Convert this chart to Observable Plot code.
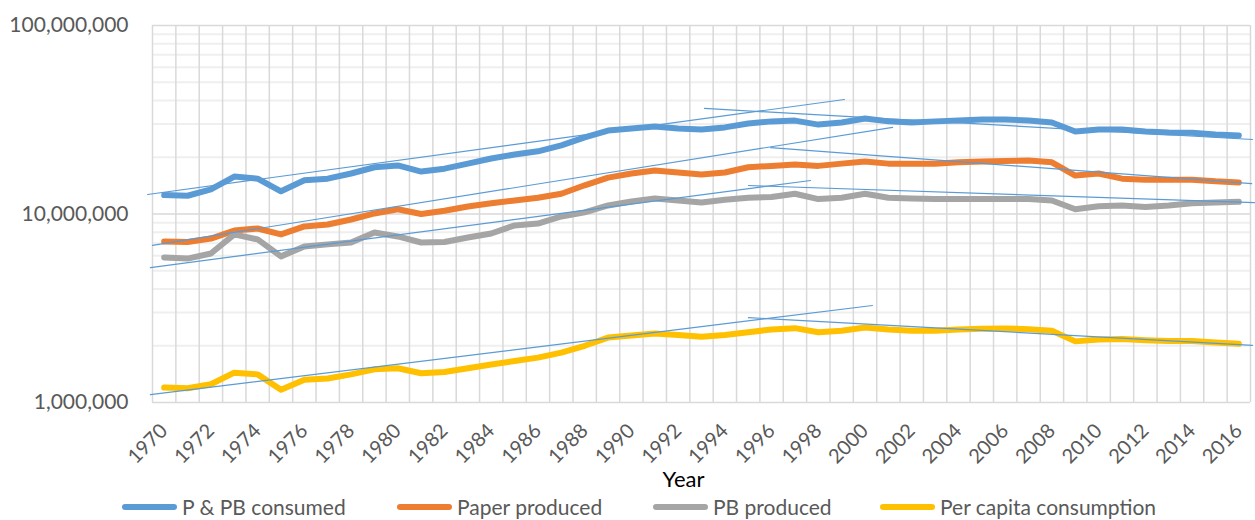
<!DOCTYPE html>
<html>
<head>
<meta charset="utf-8">
<script src="https://cdn.jsdelivr.net/npm/d3@7"></script>
<script src="https://cdn.jsdelivr.net/npm/@observablehq/plot@0.6"></script>
<style>
  html, body { margin: 0; padding: 0; background: #fff; overflow: hidden; }
  #wrap { position: relative; width: 1255px; height: 520px; font-family: Lato, "Open Sans", sans-serif; }
  #legend { position: absolute; left: 0; top: 494px; width: 1255px; height: 26px; }
  .item { position: absolute; top: 0; display: flex; align-items: center; height: 26px; font-size: 21px; line-height: 26px; color: #595959; white-space: nowrap; }
  .swatch { width: 55px; height: 6px; border-radius: 3px; margin-right: 5px; }
</style>
</head>
<body>
<div id="wrap"><div id="chart"></div><div id="legend"></div></div>
<script>
// ---- Data ----
const years = [1970,1971,1972,1973,1974,1975,1976,1977,1978,1979,
               1980,1981,1982,1983,1984,1985,1986,1987,1988,1989,
               1990,1991,1992,1993,1994,1995,1996,1997,1998,1999,
               2000,2001,2002,2003,2004,2005,2006,2007,2008,2009,
               2010,2011,2012,2013,2014,2015,2016];

const ppbConsumed = [12.6e6,12.5e6,13.5e6,15.8e6,15.4e6,13.2e6,15.1e6,15.4e6,16.4e6,17.7e6,
                     18.1e6,16.8e6,17.4e6,18.5e6,19.7e6,20.7e6,21.5e6,23.1e6,25.5e6,27.7e6,
                     28.4e6,29.1e6,28.4e6,28.1e6,28.8e6,30.2e6,31.0e6,31.3e6,29.8e6,30.6e6,
                     32.1e6,31.0e6,30.6e6,31.0e6,31.3e6,31.7e6,31.7e6,31.3e6,30.6e6,27.4e6,
                     28.1e6,28.1e6,27.4e6,27.1e6,27.0e6,26.4e6,26.1e6];

const paperProduced = [7.14e6,7.1e6,7.41e6,8.17e6,8.38e6,7.79e6,8.59e6,8.8e6,9.35e6,10.07e6,
                       10.6e6,10.0e6,10.4e6,10.96e6,11.4e6,11.8e6,12.2e6,12.8e6,14.2e6,15.6e6,
                       16.4e6,17.0e6,16.6e6,16.2e6,16.6e6,17.7e6,18.0e6,18.3e6,18.0e6,18.5e6,
                       19.0e6,18.5e6,18.5e6,18.5e6,18.8e6,19.0e6,19.1e6,19.2e6,18.8e6,16.0e6,
                       16.4e6,15.4e6,15.2e6,15.2e6,15.2e6,14.9e6,14.7e6];

const pbProduced = [5.88e6,5.8e6,6.17e6,7.8e6,7.33e6,5.96e6,6.73e6,6.9e6,7.06e6,7.98e6,
                    7.6e6,7.06e6,7.1e6,7.5e6,7.88e6,8.7e6,8.9e6,9.7e6,10.2e6,11.1e6,
                    11.65e6,12.1e6,11.8e6,11.5e6,11.9e6,12.2e6,12.3e6,12.8e6,12.0e6,12.2e6,
                    12.8e6,12.2e6,12.1e6,12.0e6,12.0e6,12.0e6,12.0e6,12.0e6,11.8e6,10.6e6,
                    11.0e6,11.1e6,10.9e6,11.1e6,11.4e6,11.5e6,11.6e6];

const perCapita = [1.20e6,1.19e6,1.25e6,1.44e6,1.41e6,1.17e6,1.32e6,1.34e6,1.41e6,1.50e6,
                   1.52e6,1.43e6,1.45e6,1.52e6,1.59e6,1.66e6,1.73e6,1.84e6,2.0e6,2.21e6,
                   2.27e6,2.32e6,2.28e6,2.23e6,2.28e6,2.36e6,2.44e6,2.48e6,2.36e6,2.40e6,
                   2.50e6,2.44e6,2.40e6,2.40e6,2.44e6,2.46e6,2.47e6,2.45e6,2.40e6,2.11e6,
                   2.16e6,2.17e6,2.14e6,2.12e6,2.12e6,2.08e6,2.05e6];

const seriesNames = ["P & PB consumed", "Paper produced", "PB produced", "Per capita consumption"];
const seriesColors = ["#5b9bd5", "#ed7d31", "#a5a5a5", "#ffc000"];

// Trend lines: [id, year, value] endpoints
const trendIds    = ["c1","c1","c2","c2","p1","p1","p2","p2","b1","b1","b2","b2","k1","k1","k2","k2"];
const trendYears  = [1969.29,1999.12,1993.13,2016.59, 1969.5,2001.18,1995.96,2016.55,
                     1969.41,1997.67,1995.01,2016.67, 1969.41,2000.32,1995.01,2016.59];
const trendValues = [12.69e6,40.5e6,36.3e6,24.85e6, 6.81e6,28.8e6,22.5e6,14.5e6,
                     5.20e6,15.06e6,14.16e6,11.5e6, 1.10e6,3.27e6,2.82e6,2.01e6];

const yMajorTicks = [1e6, 1e7, 1e8];
const yMinorTicks = [2e6,3e6,4e6,5e6,6e6,7e6,8e6,9e6,2e7,3e7,4e7,5e7,6e7,7e7,8e7,9e7];
const xTickYears = [1970,1972,1974,1976,1978,1980,1982,1984,1986,1988,1990,1992,1994,1996,
                    1998,2000,2002,2004,2006,2008,2010,2012,2014,2016];

// ---- Build tables ----
const allSeries = [ppbConsumed, paperProduced, pbProduced, perCapita];
const rows = [];
allSeries.forEach((vals, si) => years.forEach((yr, i) => rows.push({series: seriesNames[si], year: yr, value: vals[i]})));
const trends = trendIds.map((id, i) => ({id, year: trendYears[i], value: trendValues[i]}));
const categoryEdges = years.map(y => y - 0.5).concat([years[years.length - 1] + 0.5]);

const chart = Plot.plot({
  width: 1255,
  height: 494,
  marginTop: 25,
  marginLeft: 152,
  marginRight: 5,
  marginBottom: 92,
  x: {type: "linear", domain: [1969.5, 2016.5]},
  y: {type: "log", domain: [1e6, 1e8]},
  color: {domain: seriesNames, range: seriesColors},
  style: {fontFamily: "Lato, 'Open Sans', sans-serif", color: "#595959", background: "white", overflow: "visible"},
  marks: [
    Plot.ruleY(yMinorTicks, {stroke: "#efefef", strokeWidth: 2}),
    Plot.ruleX(categoryEdges, {stroke: "#d9d9d9", strokeWidth: 1.5}),
    Plot.ruleY(yMajorTicks, {stroke: "#d9d9d9", strokeWidth: 1.5}),
    Plot.line(rows, {x: "year", y: "value", z: "series", stroke: "series", strokeWidth: 6, strokeLinejoin: "round", strokeLinecap: "round"}),
    Plot.line(trends, {x: "year", y: "value", z: "id", stroke: "#5b9bd5", strokeWidth: 1.2, clip: false}),
    Plot.axisY({ticks: yMajorTicks, tickFormat: d3.format(","), tickSize: 0, tickPadding: 24, fontSize: 21, label: null}),
    Plot.axisX({ticks: xTickYears, tickFormat: d => String(d), tickSize: 0, tickRotate: -45, tickPadding: 25, fontSize: 20, label: null}),
    Plot.text(["Year"], {frameAnchor: "bottom", dx: -18, dy: 84, fontSize: 22, fill: "#000"})
  ]
});
document.getElementById("chart").appendChild(chart);

// ---- Legend ----
const legendLefts = [122, 397, 653, 880];
const legend = document.getElementById("legend");
seriesNames.forEach((name, i) => {
  const it = document.createElement("div");
  it.className = "item";
  it.style.left = legendLefts[i] + "px";
  const sw = document.createElement("div");
  sw.className = "swatch";
  sw.style.background = seriesColors[i];
  const tx = document.createElement("span");
  tx.textContent = name;
  it.appendChild(sw); it.appendChild(tx);
  legend.appendChild(it);
});
</script>
</body>
</html>
